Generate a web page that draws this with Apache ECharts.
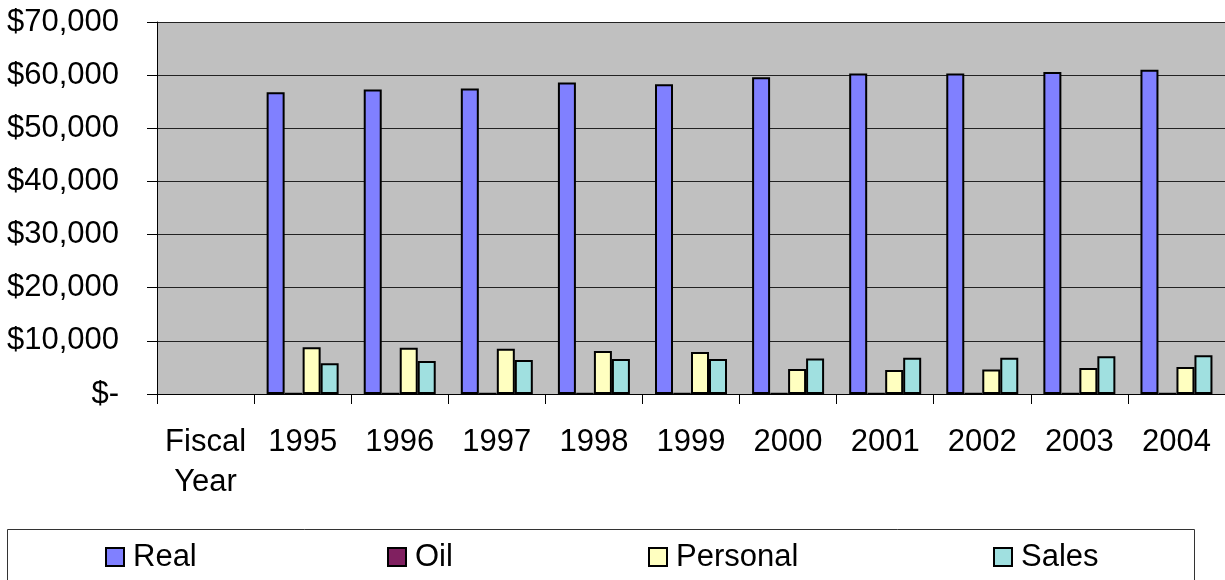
<!DOCTYPE html>
<html>
<head>
<meta charset="utf-8">
<script src="https://cdn.jsdelivr.net/npm/echarts@6/dist/echarts.min.js"></script>
<style>html,body{margin:0;padding:0;background:#fff;}#c{width:1225px;height:580px;}</style>
</head>
<body>
<div id="c"></div>
<script>
var categories = ['Fiscal\nYear','1995','1996','1997','1998','1999','2000','2001','2002','2003','2004'];
var realValues = [null,56800,57300,57500,58600,58300,59600,60300,60300,60600,61000];
var oilValues = [null,100,100,100,100,100,100,100,100,100,100];
var personalValues = [null,8800,8700,8500,8100,7900,4700,4500,4600,4900,5100];
var salesValues = [null,5800,6200,6400,6600,6600,6700,6800,6800,7100,7300];
var yTicks = [0,10000,20000,30000,40000,50000,60000,70000];

var FONT = "'Liberation Sans', Arial, sans-serif";
var colors = {Real:'#8080FF', Oil:'#802060', Personal:'#FFFFC0', Sales:'#A0E0E0'};
function fmt(v){ return v === 0 ? '$-' : '$' + v.toLocaleString('en-US'); }
function mk(name, data){
  return {name:name, type:'bar', data:data, barWidth:18, barGap:'0%',
    itemStyle:{color:colors[name], borderColor:'#000', borderWidth:2}};
}
function lg(name, left){
  return {data:[name], left:left, top:539, padding:0, itemWidth:18, itemHeight:18,
    icon:'rect', itemStyle:{borderColor:'#000', borderWidth:2},
    textStyle:{fontFamily:FONT, fontSize:31, color:'#000', lineHeight:36, padding:[0,0,0,4]}};
}
var chart = echarts.init(document.getElementById('c'));
chart.setOption({
  animation:false,
  backgroundColor:'#fff',
  grid:{left:157, top:22, width:1070, height:372, backgroundColor:'#C0C0C0', show:true, borderWidth:0},
  xAxis:{type:'category', data:categories,
    axisLine:{lineStyle:{color:'#000', width:1}},
    axisTick:{show:true, inside:false, length:10, interval:0, lineStyle:{color:'#000'}},
    axisLabel:{interval:0, margin:28, fontFamily:FONT, fontSize:31, color:'#000', lineHeight:40}},
  yAxis:{type:'value', min:yTicks[0], max:yTicks[yTicks.length-1], interval:10000,
    axisLine:{show:true, lineStyle:{color:'#000', width:1}},
    axisTick:{show:true, inside:false, length:10, lineStyle:{color:'#000'}},
    splitLine:{show:true, lineStyle:{color:'#222', width:1}},
    axisLabel:{formatter:fmt, margin:38, fontFamily:FONT, fontSize:31, color:'#000'}},
  legend:[lg('Real',105), lg('Oil',387), lg('Personal',648), lg('Sales',993)],
  graphic:[{type:'rect', shape:{x:7.5, y:529.5, width:1187, height:60}, style:{fill:'none', stroke:'#333', lineWidth:1}, silent:true, z:-1}],
  series:[mk('Real',realValues), mk('Oil',oilValues), mk('Personal',personalValues), mk('Sales',salesValues)]
});
</script>
</body>
</html>
